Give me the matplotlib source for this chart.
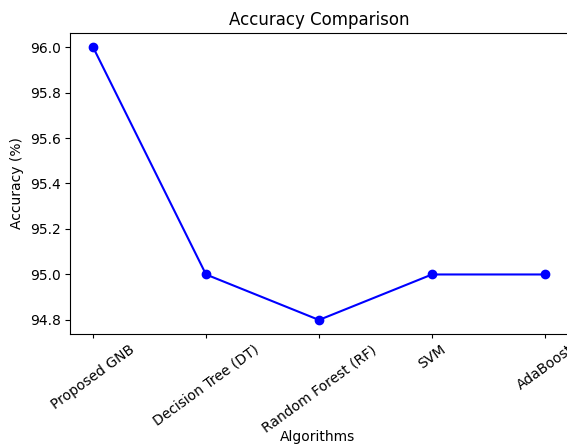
import matplotlib
matplotlib.use("Agg")
import matplotlib.pyplot as plt

algorithms = ["Proposed GNB", "Decision Tree (DT)", "Random Forest (RF)", "SVM", "AdaBoost"]
accuracy = [96.0, 95.0, 94.8, 95.0, 95.0]

fig = plt.figure(figsize=(5.67, 4.44), dpi=100)
ax = fig.add_axes([70.4/567, (444-333.6)/444, (567.6-70.4)/567, (333.6-33.4)/444])
ax.plot(algorithms, accuracy, marker="o", color="blue")
ax.set_title("Accuracy Comparison")
ax.set_xlabel("Algorithms")
ax.xaxis.set_label_coords(0.498, -0.322)
ax.set_ylabel("Accuracy (%)")
ax.tick_params(axis="x", length=3)
plt.setp(ax.get_xticklabels(), rotation=36, ha="center", rotation_mode="default")
fig.savefig("out.png", dpi=100)
